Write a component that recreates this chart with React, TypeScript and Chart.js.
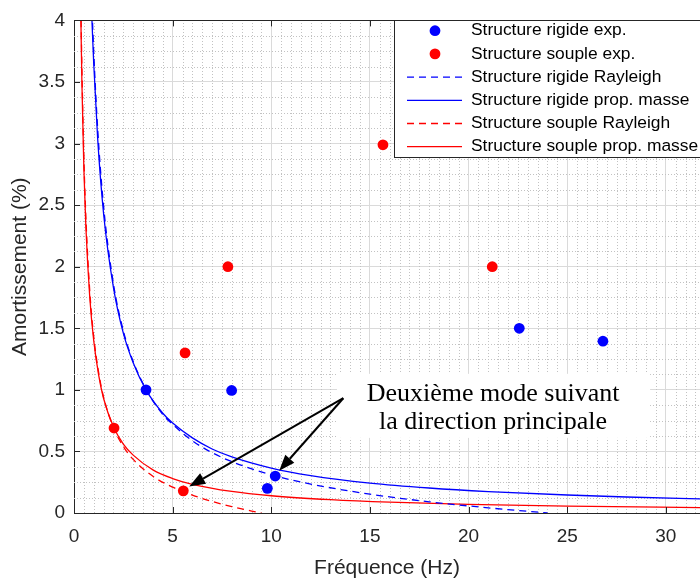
import React, { useEffect, useRef } from 'react';
import { Chart, registerables } from 'chart.js';

Chart.register(...registerables);

// ---- data ----
const rigidExpFreq = [3.65, 7.99, 9.8, 10.2, 22.57, 26.81];
const rigidExpDamp = [1.0, 0.995, 0.2, 0.3, 1.5, 1.395];
const soupleExpFreq = [2.03, 5.54, 5.63, 7.8, 15.66, 21.2];
const soupleExpDamp = [0.69, 0.18, 1.3, 2.0, 2.99, 2.0];

const rigidRayleighFreq = [0.94, 1.0, 1.2, 1.5, 2.0, 2.5, 3.0, 3.7, 4.5, 5.0, 6.0, 7.0, 8.0, 10.0, 12.0, 15.0, 18.0, 21.0, 24.0];
const rigidRayleighDamp = [3.98, 3.74, 3.12, 2.49, 1.86, 1.48, 1.23, 0.99, 0.8, 0.72, 0.586, 0.49, 0.417, 0.31, 0.235, 0.153, 0.091, 0.042, 0.0];

const rigidMassFreq = [0.91, 1.0, 1.2, 1.5, 2.0, 2.5, 3.0, 3.65, 4.5, 5.0, 6.0, 7.0, 8.0, 10.0, 12.0, 15.0, 18.0, 21.0, 25.0, 28.0, 32.0];
const rigidMassDamp = [4.0, 3.65, 3.04, 2.43, 1.83, 1.46, 1.22, 1.0, 0.81, 0.73, 0.61, 0.52, 0.456, 0.365, 0.304, 0.243, 0.203, 0.174, 0.146, 0.13, 0.114];

const soupleRayleighFreq = [0.36, 0.4, 0.5, 0.6, 0.8, 1.0, 1.25, 1.5, 2.0, 2.5, 3.0, 4.0, 5.0, 6.0, 7.0, 8.0, 9.0, 9.5];
const soupleRayleighDamp = [4.0, 3.62, 2.89, 2.41, 1.8, 1.43, 1.14, 0.94, 0.693, 0.54, 0.435, 0.298, 0.21, 0.145, 0.094, 0.052, 0.016, 0.0];

const soupleMassFreq = [0.35, 0.4, 0.5, 0.6, 0.8, 1.0, 1.25, 1.5, 2.0, 2.5, 3.0, 4.0, 5.0, 6.0, 8.0, 10.0, 13.0, 16.0, 20.0, 25.0, 32.0];
const soupleMassDamp = [4.0, 3.5, 2.8, 2.33, 1.75, 1.4, 1.12, 0.93, 0.7, 0.56, 0.47, 0.35, 0.28, 0.233, 0.175, 0.14, 0.108, 0.0875, 0.07, 0.056, 0.044];

const xTicks = [0, 5, 10, 15, 20, 25, 30];
const yTicks = [0, 0.5, 1, 1.5, 2, 2.5, 3, 3.5, 4];
const X_MAX = 31.73;
const Y_MAX = 4;
const X_MINOR = 0.5;
const Y_MINOR = 0.125;

const annotationLines = ['Deuxième mode suivant', 'la direction principale'];
// annotation geometry in data units
const annoTextX = 21.24;
const annoBaselineY = [0.912, 0.681];
const annoBox = { x0: 13.33, x1: 29.2, y0: 1.13, y1: 0.61 };
const arrowTail = { x: 13.65, y: 0.932 };
const arrowTips = [
  { x: 5.84, y: 0.215 },
  { x: 10.4, y: 0.343 },
];

const BLUE = '#0000ff';
const RED = '#ff0000';
const AXIS = '#262626';

const zip = (xs: number[], ys: number[]) => xs.map((x, i) => ({ x, y: ys[i] }));

const minorGridPlugin = {
  id: 'minorGrid',
  beforeDatasetsDraw(chart: any) {
    const { ctx, chartArea: a, scales } = chart;
    const x = scales.x;
    const y = scales.y;
    ctx.save();
    ctx.beginPath();
    ctx.rect(a.left, a.top, a.right - a.left, a.bottom - a.top);
    ctx.clip();
    ctx.strokeStyle = '#c2c2c2';
    ctx.lineWidth = 1;
    ctx.setLineDash([1, 2]);
    const nx = Math.floor(X_MAX / X_MINOR);
    for (let i = 1; i <= nx; i++) {
      const v = i * X_MINOR;
      if (Math.abs(v / 5 - Math.round(v / 5)) < 1e-6) continue;
      const px = Math.round(x.getPixelForValue(v)) + 0.5;
      ctx.beginPath();
      ctx.moveTo(px, a.bottom);
      ctx.lineTo(px, a.top);
      ctx.stroke();
    }
    const ny = Math.round(Y_MAX / Y_MINOR);
    for (let i = 1; i < ny; i++) {
      const v = i * Y_MINOR;
      if (Math.abs(v / 0.5 - Math.round(v / 0.5)) < 1e-6) continue;
      const py = Math.round(y.getPixelForValue(v)) + 0.5;
      ctx.beginPath();
      ctx.moveTo(a.left, py);
      ctx.lineTo(a.right, py);
      ctx.stroke();
    }
    ctx.restore();
  },
};

const frameAndAnnotationPlugin = {
  id: 'frameAnno',
  afterDatasetsDraw(chart: any) {
    const { ctx, chartArea: a, scales } = chart;
    const x = scales.x;
    const y = scales.y;
    ctx.save();
    // top border
    ctx.strokeStyle = AXIS;
    ctx.lineWidth = 1;
    ctx.beginPath();
    ctx.moveTo(a.left, Math.round(a.top) + 0.5);
    ctx.lineTo(a.right, Math.round(a.top) + 0.5);
    ctx.stroke();
    // inner ticks
    const tl = 6;
    xTicks.forEach((v) => {
      const px = Math.round(x.getPixelForValue(v)) + 0.5;
      ctx.beginPath();
      ctx.moveTo(px, a.bottom);
      ctx.lineTo(px, a.bottom - tl);
      ctx.moveTo(px, a.top);
      ctx.lineTo(px, a.top + tl);
      ctx.stroke();
    });
    yTicks.forEach((v) => {
      const py = Math.round(y.getPixelForValue(v)) + 0.5;
      ctx.beginPath();
      ctx.moveTo(a.left, py);
      ctx.lineTo(a.left + tl, py);
      ctx.stroke();
    });

    // annotation white box
    const bx0 = x.getPixelForValue(annoBox.x0);
    const bx1 = x.getPixelForValue(annoBox.x1);
    const by0 = y.getPixelForValue(annoBox.y0);
    const by1 = y.getPixelForValue(annoBox.y1);
    ctx.fillStyle = '#ffffff';
    ctx.fillRect(bx0, by0, bx1 - bx0, by1 - by0);

    // annotation text
    ctx.fillStyle = '#000000';
    ctx.font = '26px "Liberation Serif", "Times New Roman", serif';
    ctx.textAlign = 'center';
    ctx.textBaseline = 'alphabetic';
    annotationLines.forEach((t, i) => {
      ctx.fillText(t, x.getPixelForValue(annoTextX), y.getPixelForValue(annoBaselineY[i]));
    });

    // arrows
    const tx = x.getPixelForValue(arrowTail.x);
    const ty = y.getPixelForValue(arrowTail.y);
    ctx.strokeStyle = '#000000';
    ctx.fillStyle = '#000000';
    ctx.lineWidth = 2;
    arrowTips.forEach((tip) => {
      const hx = x.getPixelForValue(tip.x);
      const hy = y.getPixelForValue(tip.y);
      const ang = Math.atan2(hy - ty, hx - tx);
      const headLen = 16;
      const headHalf = 6;
      const bx = hx - headLen * Math.cos(ang);
      const by = hy - headLen * Math.sin(ang);
      ctx.beginPath();
      ctx.moveTo(tx, ty);
      ctx.lineTo(bx, by);
      ctx.stroke();
      ctx.beginPath();
      ctx.moveTo(hx, hy);
      ctx.lineTo(bx + headHalf * Math.sin(ang), by - headHalf * Math.cos(ang));
      ctx.lineTo(bx - headHalf * Math.sin(ang), by + headHalf * Math.cos(ang));
      ctx.closePath();
      ctx.fill();
    });
    ctx.restore();
  },
};

const customLegendPlugin = {
  id: 'customLegend',
  afterDraw(chart: any) {
    const { ctx, chartArea: a } = chart;
    const left = 394.5;
    const top = Math.round(a.top) + 0.5;
    const bottom = 157.5;
    ctx.save();
    ctx.fillStyle = '#ffffff';
    ctx.fillRect(left, top, 720 - left, bottom - top);
    ctx.strokeStyle = AXIS;
    ctx.lineWidth = 1;
    ctx.strokeRect(left, top, 720 - left, bottom - top);
    const rowY0 = 30.7;
    const rowStep = 23.2;
    ctx.font = '17.4px "Liberation Sans", Arial, sans-serif';
    ctx.textBaseline = 'middle';
    ctx.textAlign = 'left';
    chart.data.datasets.forEach((ds: any, i: number) => {
      const ry = rowY0 + i * rowStep;
      if (ds.showLine === false) {
        ctx.fillStyle = ds.backgroundColor;
        ctx.beginPath();
        ctx.arc(435, ry, ds.pointRadius, 0, Math.PI * 2);
        ctx.fill();
      } else {
        ctx.strokeStyle = ds.borderColor;
        ctx.lineWidth = ds.borderWidth;
        ctx.setLineDash(ds.borderDash || []);
        ctx.beginPath();
        ctx.moveTo(407, ry);
        ctx.lineTo(462, ry);
        ctx.stroke();
        ctx.setLineDash([]);
      }
      ctx.fillStyle = '#000000';
      ctx.fillText(ds.label, 471, ry);
    });
    ctx.restore();
  },
};

export default function App() {
  const canvasRef = useRef<HTMLCanvasElement | null>(null);

  useEffect(() => {
    if (!canvasRef.current) return;
    const scatterDs = (label: string, xs: number[], ys: number[], color: string) => ({
      label,
      data: zip(xs, ys),
      showLine: false,
      pointRadius: 5.4,
      pointHoverRadius: 5.4,
      pointBorderWidth: 0,
      backgroundColor: color,
      borderColor: color,
    });
    const lineDs = (label: string, xs: number[], ys: number[], color: string, dash: number[]) => ({
      label,
      data: zip(xs, ys),
      showLine: true,
      borderColor: color,
      backgroundColor: color,
      borderWidth: 1.3,
      borderDash: dash,
      pointRadius: 0,
      cubicInterpolationMode: 'monotone',
      fill: false,
    });
    const chart = new Chart(canvasRef.current, {
      type: 'line',
      data: {
        datasets: [
          scatterDs('Structure rigide exp.', rigidExpFreq, rigidExpDamp, BLUE),
          scatterDs('Structure souple exp.', soupleExpFreq, soupleExpDamp, RED),
          lineDs('Structure rigide Rayleigh', rigidRayleighFreq, rigidRayleighDamp, BLUE, [7, 5]),
          lineDs('Structure rigide prop. masse', rigidMassFreq, rigidMassDamp, BLUE, []),
          lineDs('Structure souple Rayleigh', soupleRayleighFreq, soupleRayleighDamp, RED, [7, 5]),
          lineDs('Structure souple prop. masse', soupleMassFreq, soupleMassDamp, RED, []),
        ] as any,
      },
      options: {
        responsive: false,
        animation: false,
        devicePixelRatio: 1,
        layout: { autoPadding: false, padding: { top: 15, right: 0, left: 0, bottom: 0 } },
        plugins: {
          legend: { display: false },
          tooltip: { enabled: false },
        },
        scales: {
          x: {
            type: 'linear',
            min: 0,
            max: X_MAX,
            afterBuildTicks: (scale: any) => {
              scale.ticks = xTicks.map((v) => ({ value: v }));
            },
            afterFit: (scale: any) => {
              scale.height = 66;
              scale.paddingRight = 0;
              scale.paddingLeft = 0;
            },
            ticks: {
              color: AXIS,
              font: { family: '"Liberation Sans", Arial, sans-serif', size: 19 },
              padding: 12,
              maxRotation: 0,
              callback: (v: any) => String(v),
            },
            grid: { color: '#dadada', lineWidth: 1, drawTicks: false },
            border: { color: AXIS, width: 1 },
            title: {
              display: true,
              text: 'Fréquence (Hz)',
              color: AXIS,
              font: { family: '"Liberation Sans", Arial, sans-serif', size: 21, lineHeight: 1 },
              padding: { top: 0, bottom: 0 },
            },
          },
          y: {
            type: 'linear',
            min: 0,
            max: Y_MAX,
            afterBuildTicks: (scale: any) => {
              scale.ticks = yTicks.map((v) => ({ value: v }));
            },
            afterFit: (scale: any) => {
              scale.width = 74;
            },
            ticks: {
              color: AXIS,
              font: { family: '"Liberation Sans", Arial, sans-serif', size: 19 },
              padding: 9,
              callback: (v: any) => String(v),
            },
            grid: { color: '#dadada', lineWidth: 1, drawTicks: false },
            border: { color: AXIS, width: 1 },
            title: {
              display: true,
              text: 'Amortissement (%)',
              color: AXIS,
              font: { family: '"Liberation Sans", Arial, sans-serif', size: 21, lineHeight: 1 },
              padding: { top: 10, bottom: 0 },
            },
          },
        },
      } as any,
      plugins: [minorGridPlugin, frameAndAnnotationPlugin, customLegendPlugin],
    });
    return () => chart.destroy();
  }, []);

  return (
    <div style={{ position: 'fixed', left: 0, top: 0, width: 700, height: 579, background: '#ffffff' }}>
      <canvas ref={canvasRef} width={700} height={579} style={{ display: 'block', width: 700, height: 579 }} />
    </div>
  );
}
